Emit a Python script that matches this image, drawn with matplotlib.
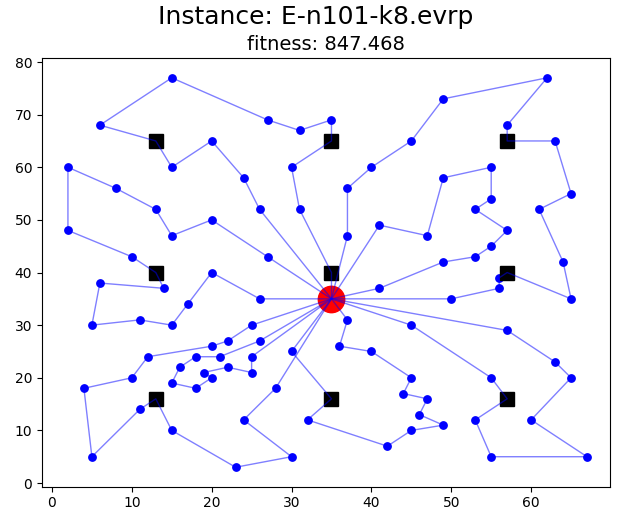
import matplotlib
matplotlib.use("Agg")
import matplotlib.pyplot as plt

# node 0 is the depot, 1..100 customers, 101..109 charging stations
node_x = [35,
          41, 35, 55, 55, 15, 25, 20, 10, 55, 30, 20, 50, 30, 15, 30, 10, 5, 20, 15, 45,
          45, 45, 55, 65, 65, 45, 35, 41, 64, 40, 31, 35, 53, 65, 63, 2, 20, 5, 60, 40,
          42, 24, 23, 11, 6, 2, 8, 13, 6, 47, 49, 27, 37, 57, 63, 53, 32, 36, 21, 17,
          12, 24, 27, 15, 62, 49, 67, 56, 37, 37, 57, 47, 44, 46, 49, 49, 53, 61, 57, 56,
          55, 15, 14, 11, 16, 4, 28, 26, 26, 31, 15, 22, 18, 26, 25, 22, 25, 19, 20, 18,
          13, 35, 57, 13, 35, 57, 13, 35, 57]
node_y = [35,
          49, 16, 45, 20, 30, 30, 50, 43, 60, 60, 65, 35, 25, 10, 5, 20, 30, 40, 60, 65,
          20, 10, 5, 35, 20, 30, 40, 37, 42, 60, 52, 69, 52, 55, 65, 60, 20, 5, 12, 25,
          7, 12, 3, 14, 38, 48, 56, 52, 68, 47, 58, 43, 31, 29, 23, 12, 12, 26, 24, 34,
          24, 58, 69, 77, 77, 73, 5, 39, 47, 56, 68, 16, 17, 13, 11, 42, 43, 52, 48, 37,
          54, 47, 37, 31, 22, 18, 18, 52, 35, 67, 19, 22, 24, 27, 24, 27, 21, 21, 26, 18,
          65, 65, 65, 40, 40, 40, 16, 16, 16]

depot = 0
customers = list(range(1, 101))
stations = list(range(101, 110))

routes = [
    [0, 88, 62, 11, 19, 101, 49, 64, 63, 90, 32, 102, 10, 31, 27, 105, 0],
    [0, 52, 7, 82, 48, 47, 36, 46, 8, 104, 83, 45, 17, 84, 5, 60, 18, 89, 0],
    [0, 69, 70, 30, 20, 66, 65, 71, 103, 35, 34, 78, 29, 24, 106, 68, 80, 12, 0],
    [0, 1, 50, 51, 9, 81, 33, 79, 3, 77, 76, 28, 0],
    [0, 54, 55, 25, 39, 67, 23, 56, 109, 4, 26, 0],
    [0, 53, 58, 40, 21, 73, 72, 74, 75, 22, 41, 57, 2, 108, 13, 0],
    [0, 87, 42, 15, 43, 14, 107, 44, 38, 86, 16, 61, 99, 96, 6, 0],
    [0, 94, 59, 93, 85, 91, 100, 37, 98, 92, 97, 95, 0],
]

instance = "E-n101-k8.evrp"
fitness = 847.468

fig = plt.figure(figsize=(6.21, 5.18), dpi=100)
ax = fig.add_axes([0.0676, 0.0604, 0.915, 0.827])

# customers first, stations on top of them, route lines over everything
ax.plot([node_x[i] for i in customers], [node_y[i] for i in customers], 'o',
        color='blue', markersize=5.3, linestyle='none', zorder=1)
ax.plot(node_x[depot], node_y[depot], 'o', color='red', markersize=19, zorder=1)
ax.plot([node_x[i] for i in stations], [node_y[i] for i in stations], 's',
        color='black', markersize=10.5, linestyle='none', zorder=2)

for r in routes:
    ax.plot([node_x[i] for i in r], [node_y[i] for i in r], color='blue',
            alpha=0.5, linewidth=1, zorder=3)

ax.set_xlim(-1.25, 69.9)
ax.set_ylim(-0.7, 80.7)
ax.set_title("fitness: %.3f" % fitness, fontsize=14)
fig.suptitle("Instance: " + instance, fontsize=18, x=0.509, y=0.99)

fig.savefig("out.png", dpi=100)
